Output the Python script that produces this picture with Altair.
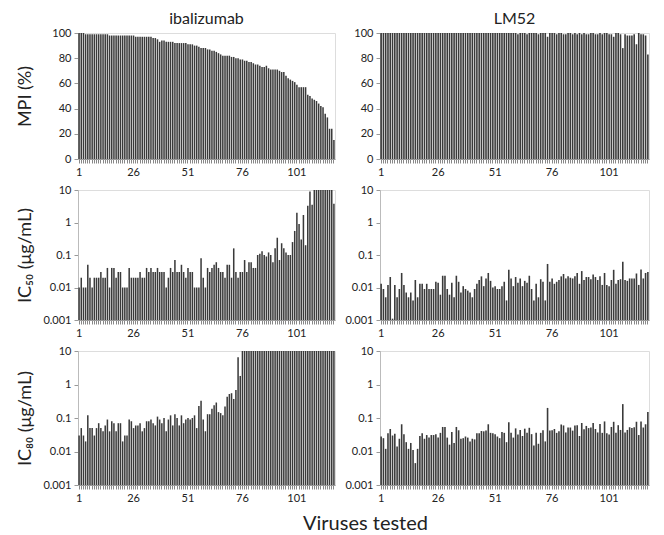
import altair as alt
import pandas as pd

virus = list(range(1, 119))
label_ticks = [1, 26, 51, 76, 101]

mpi_ibal = [
    100, 100, 100, 99, 99, 99, 99, 99, 99, 99,
    99, 99, 99, 99, 98, 98, 98, 98, 98, 98,
    98, 98, 98, 98, 98, 98, 97, 97, 97, 97,
    97, 97, 97, 97, 96, 96, 95, 93, 94, 94,
    93, 93, 93, 93, 92, 92, 92, 92, 92, 92,
    91, 91, 91, 90, 90, 89, 88, 88, 88, 87,
    87, 86, 86, 85, 84, 83, 82, 82, 82, 82,
    81, 81, 80, 80, 79, 79, 78, 78, 77, 77,
    76, 75, 75, 74, 73, 73, 74, 72, 71, 71,
    71, 71, 70, 69, 69, 66, 64, 63, 62, 61,
    59, 57, 57, 57, 57, 51, 50, 48, 47, 46,
    44, 42, 41, 36, 33, 24, 24, 15,
]
mpi_lm52 = [
    100, 100, 100, 100, 100, 100, 100, 100, 100, 100,
    100, 100, 100, 100, 100, 100, 100, 100, 100, 100,
    100, 100, 100, 100, 100, 100, 100, 100, 100, 100,
    100, 100, 100, 100, 100, 100, 100, 100, 100, 100,
    100, 100, 100, 100, 100, 100, 100, 100, 100, 100,
    100, 100, 100, 100, 100, 100, 100, 100, 100, 100,
    99, 100, 100, 100, 99, 100, 100, 100, 100, 99,
    100, 100, 100, 97, 100, 100, 100, 99, 100, 100,
    99, 99, 100, 100, 99, 100, 99, 100, 99, 100,
    99, 99, 100, 100, 99, 99, 100, 99, 100, 100,
    99, 99, 97, 100, 100, 99, 88, 99, 98, 98,
    98, 99, 91, 100, 99, 99, 98, 83,
]
ic50_ibal = [
    0.01, 0.02, 0.01, 0.01, 0.05, 0.02, 0.01, 0.02, 0.02, 0.02,
    0.03, 0.02, 0.02, 0.04, 0.01, 0.04, 0.04, 0.02, 0.03, 0.03,
    0.01, 0.01, 0.01, 0.04, 0.02, 0.02, 0.02, 0.02, 0.03, 0.02,
    0.02, 0.04, 0.03, 0.04, 0.03, 0.03, 0.04, 0.03, 0.03, 0.03,
    0.01, 0.02, 0.04, 0.03, 0.07, 0.03, 0.03, 0.05, 0.03, 0.02,
    0.04, 0.03, 0.03, 0.01, 0.01, 0.01, 0.08, 0.02, 0.01, 0.04,
    0.03, 0.04, 0.05, 0.06, 0.04, 0.03, 0.03, 0.02, 0.05, 0.05,
    0.02, 0.16, 0.03, 0.02, 0.03, 0.03, 0.07, 0.03, 0.06, 0.06,
    0.04, 0.04, 0.1, 0.11, 0.13, 0.1, 0.09, 0.12, 0.1, 0.06,
    0.16, 0.34, 0.07, 0.23, 0.16, 0.12, 0.1, 0.1, 0.25, 0.55,
    2.0, 0.9, 0.3, 1.7, 0.2, 3.3, 9, 3.5, 10, 10,
    10, 10, 10, 10, 10, 10, 10, 3.8,
]
ic50_lm52 = [
    0.013, 0.009, 0.005, 0.012, 0.021, 0.0011, 0.012, 0.005, 0.009, 0.028,
    0.012, 0.007, 0.005, 0.007, 0.004, 0.017, 0.005, 0.013, 0.013, 0.009,
    0.013, 0.009, 0.009, 0.009, 0.015, 0.014, 0.006, 0.023, 0.023, 0.009,
    0.006, 0.014, 0.005, 0.023, 0.015, 0.007, 0.011, 0.009, 0.008, 0.007,
    0.005, 0.009, 0.013, 0.017, 0.022, 0.011, 0.019, 0.028, 0.016, 0.010,
    0.011, 0.009, 0.009, 0.011, 0.015, 0.004, 0.035, 0.019, 0.011, 0.021,
    0.014, 0.019, 0.011, 0.016, 0.014, 0.023, 0.009, 0.004, 0.013, 0.005,
    0.018, 0.015, 0.004, 0.053, 0.015, 0.019, 0.013, 0.015, 0.017, 0.022,
    0.026, 0.019, 0.022, 0.020, 0.019, 0.022, 0.028, 0.013, 0.032, 0.017,
    0.021, 0.021, 0.018, 0.025, 0.021, 0.017, 0.022, 0.012, 0.028, 0.012,
    0.011, 0.017, 0.035, 0.013, 0.017, 0.018, 0.062, 0.017, 0.016, 0.019,
    0.019, 0.019, 0.027, 0.012, 0.036, 0.019, 0.028, 0.030,
]
ic80_ibal = [
    0.03, 0.05, 0.03, 0.02, 0.12, 0.05, 0.05, 0.03, 0.05, 0.07,
    0.05, 0.04, 0.06, 0.09, 0.04, 0.08, 0.07, 0.04, 0.07, 0.07,
    0.02, 0.03, 0.03, 0.09, 0.08, 0.05, 0.06, 0.06, 0.07, 0.04,
    0.05, 0.08, 0.08, 0.09, 0.07, 0.06, 0.11, 0.09, 0.07, 0.10,
    0.04, 0.09, 0.12, 0.06, 0.13, 0.10, 0.06, 0.12, 0.07, 0.09,
    0.10, 0.09, 0.10, 0.12, 0.05, 0.23, 0.33, 0.09, 0.04, 0.13,
    0.13, 0.19, 0.24, 0.29, 0.15, 0.14, 0.12, 0.22, 0.43, 0.52,
    0.55, 0.37, 0.68, 6.5, 1.8, 10, 10, 10, 10, 10,
    10, 10, 10, 10, 10, 10, 10, 10, 10, 10,
    10, 10, 10, 10, 10, 10, 10, 10, 10, 10,
    10, 10, 10, 10, 10, 10, 10, 10, 10, 10,
    10, 10, 10, 10, 10, 10, 10, 10,
]
ic80_lm52 = [
    0.028, 0.025, 0.012, 0.035, 0.047, 0.030, 0.034, 0.014, 0.024, 0.065,
    0.033, 0.019, 0.012, 0.018, 0.011, 0.0045, 0.012, 0.029, 0.035, 0.024,
    0.031, 0.026, 0.031, 0.031, 0.033, 0.026, 0.036, 0.054, 0.054, 0.026,
    0.016, 0.038, 0.018, 0.054, 0.043, 0.024, 0.025, 0.028, 0.026, 0.020,
    0.024, 0.023, 0.035, 0.035, 0.041, 0.040, 0.042, 0.065, 0.036, 0.035,
    0.033, 0.028, 0.025, 0.038, 0.036, 0.019, 0.075, 0.036, 0.026, 0.049,
    0.032, 0.044, 0.029, 0.048, 0.036, 0.051, 0.033, 0.015, 0.036, 0.017,
    0.036, 0.043, 0.020, 0.20, 0.042, 0.043, 0.047, 0.036, 0.040, 0.064,
    0.060, 0.037, 0.052, 0.052, 0.042, 0.060, 0.061, 0.029, 0.071, 0.046,
    0.058, 0.050, 0.052, 0.071, 0.047, 0.037, 0.066, 0.036, 0.079, 0.035,
    0.032, 0.054, 0.077, 0.036, 0.061, 0.044, 0.26, 0.037, 0.044, 0.053,
    0.050, 0.053, 0.077, 0.031, 0.078, 0.052, 0.065, 0.15,
]

FONT = "Lato"
BAR = "#3a3a3a"
TXT = "#222222"
LW = 257
RW = 269
HEIGHTS = [126, 130, 134]


def panel(vals, log, width, height, ytitle=None, title=None):
    df = pd.DataFrame({"virus": virus, "value": vals})
    x = alt.X(
        "virus:O",
        title=None,
        scale=alt.Scale(paddingInner=0.3, paddingOuter=0.15),
        axis=alt.Axis(
            labelExpr="indexof([1,26,51,76,101], datum.value) >= 0 ? datum.label : ''",
            labelAngle=0, labelOverlap=False, tickSize=4, tickColor="#888888",
            domainColor="#999999", labelPadding=3, labelFontSize=11,
            labelFont=FONT, labelColor=TXT,
        ),
    )
    axis_kw = dict(
        labelFontSize=11, labelFont=FONT, labelColor=TXT, tickSize=4,
        tickColor="#999999", domainColor="#bbbbbb", labelPadding=3, grid=False,
    )
    if ytitle is not None:
        axis_kw.update(title=ytitle, titleFontSize=18, titleFont=FONT,
                       titleFontWeight="normal", titleColor=TXT, titleX=-44)
    else:
        axis_kw.update(title=None)
    if log:
        y = alt.Y("value:Q",
                  scale=alt.Scale(type="log", domain=[0.001, 10], nice=False),
                  axis=alt.Axis(values=[0.001, 0.01, 0.1, 1, 10], format="~g", **axis_kw))
        enc = dict(x=x, y=y, y2=alt.datum(0.001))
    else:
        y = alt.Y("value:Q", scale=alt.Scale(domain=[0, 100], nice=False),
                  axis=alt.Axis(values=[0, 20, 40, 60, 80, 100], **axis_kw))
        enc = dict(x=x, y=y)
    ch = alt.Chart(df).mark_bar(color=BAR, clip=True).encode(**enc)
    props = dict(width=width, height=height)
    if title is not None:
        props["title"] = alt.TitleParams(title, fontSize=16, font=FONT,
                                         fontWeight="normal", color=TXT, offset=0)
    return ch.properties(**props)


left = alt.vconcat(
    panel(mpi_ibal, False, LW, HEIGHTS[0], "MPI (%)", "ibalizumab"),
    panel(ic50_ibal, True, LW, HEIGHTS[1], "IC₅₀ (μg/mL)"),
    panel(ic80_ibal, True, LW, HEIGHTS[2], "IC₈₀ (μg/mL)"),
    spacing=5,
)
right = alt.vconcat(
    panel(mpi_lm52, False, RW, HEIGHTS[0], None, "LM52"),
    panel(ic50_lm52, True, RW, HEIGHTS[1]),
    panel(ic80_lm52, True, RW, HEIGHTS[2]),
    spacing=5,
)

chart = alt.hconcat(left, right, spacing=8).properties(
    title=alt.TitleParams("Viruses tested", orient="bottom", anchor="middle",
                          fontSize=20, font=FONT, fontWeight="normal",
                          color=TXT, offset=10, dx=33),
    padding={"left": 7, "top": 2, "right": 3, "bottom": 5},
).configure_view(stroke="#888888", strokeWidth=1).configure(background="white")

chart.save("out.html", embed_options={"renderer": "svg", "actions": False})
